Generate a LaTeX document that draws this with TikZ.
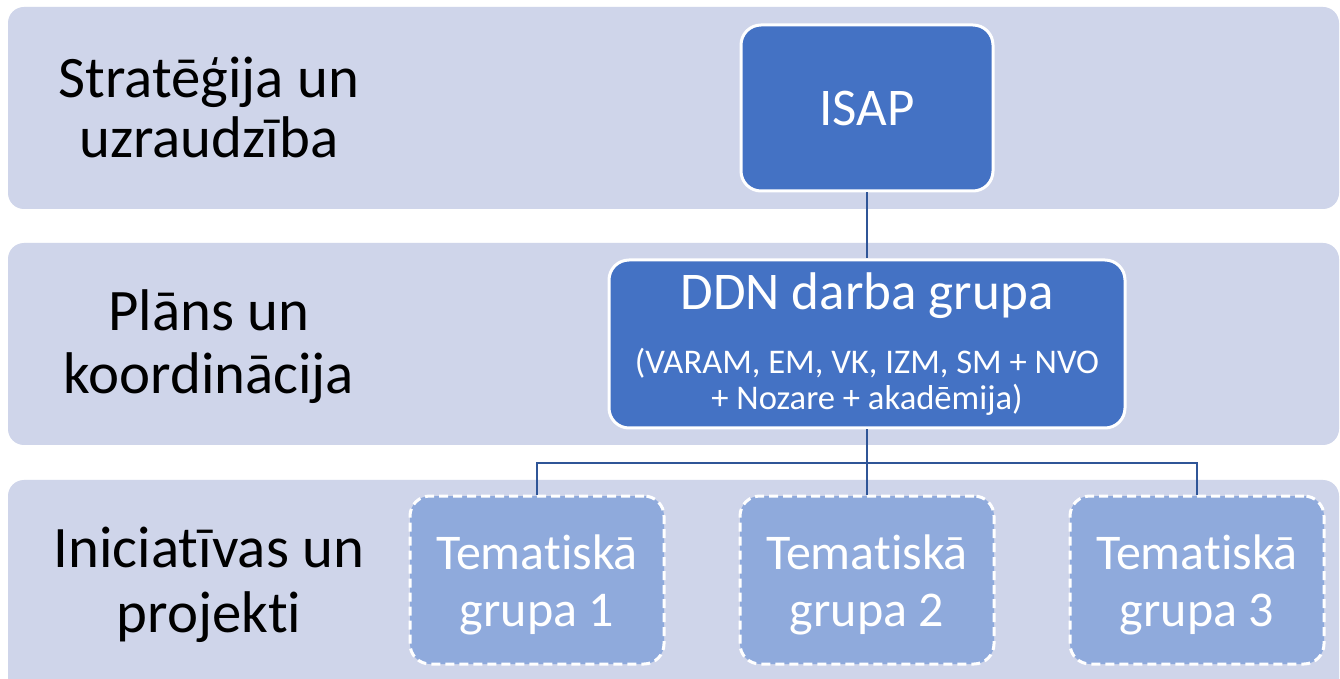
\documentclass[tikz,border=0pt]{standalone}
\usepackage{fontspec}
\setmainfont{Carlito}[Ligatures={NoCommon}]
\definecolor{bandfill}{HTML}{CFD5EA}
\definecolor{darkbox}{HTML}{4472C4}
\definecolor{lightbox}{HTML}{8FAADC}
\definecolor{linkcol}{HTML}{2F5597}

\begin{document}
\begin{tikzpicture}[x=0.5pt, y=-0.5pt,
  level distance=118pt, sibling distance=165pt,
  band/.style = {fill=bandfill, rounded corners=8pt},
  bandlabel/.style = {align=center, text=black,
    font=\fontsize{29.4pt}{#1}\selectfont},
  bandlabel/.default = 30pt,
  topbox/.style = {shape=rectangle, rounded corners=10pt,
    draw=white, line width=1.5pt, fill=darkbox, text=white,
    minimum width=126pt, minimum height=83pt, inner sep=0pt,
    align=center, font=\fontsize{26.5pt}{30pt}\selectfont},
  ddnbox/.style = {topbox, minimum width=258pt, minimum height=84pt,
    font=\fontsize{17.3pt}{18pt}\selectfont},
  temabox/.style = {topbox, fill=lightbox, dash pattern=on 4.5pt off 2.5pt,
    minimum width=127pt, minimum height=84pt,
    font=\fontsize{25pt}{28.5pt}\selectfont},
  edge from parent/.style = {draw=linkcol, line width=1pt},
  edge from parent path = {(\tikzparentnode.south) -- ++(0,34) -| (\tikzchildnode.north)}
  ]
  \clip (0,0) rectangle (1340,679);
  \fill[white] (0,0) rectangle (1340,679);
  % layer bands
  \path[band] (8,7) rectangle (1339,209);
  \path[band] (8,243) rectangle (1339,445);
  \path[band] (8,480) rectangle (1339,720);
  % layer labels
  \node[bandlabel] (strat) at (209,107) {Stratēģija un\\uzraudzība};
  \node[bandlabel=31.5pt] (plans) at (209,347) {Plāns un\\koordinācija};
  \node[bandlabel=32.5pt] (inic) at (209,585) {Iniciatīvas un\\projekti};
  % structure
  \node [topbox] (isap) at (867,108) {ISAP}
    child { node [ddnbox] (ddn) {{\fontsize{26.5pt}{30pt}\selectfont DDN darba grupa}\\[14pt]
        (VARAM, EM, VK, IZM, SM + NVO\\ + Nozare + akadēmija)}
      child { node [temabox] (tema1) {\rule{0pt}{22.5pt}Tematiskā\\grupa 1} }
      child { node [temabox] (tema2) {\rule{0pt}{22.5pt}Tematiskā\\grupa 2} }
      child { node [temabox] (tema3) {\rule{0pt}{22.5pt}Tematiskā\\grupa 3} }
      };
\end{tikzpicture}
\end{document}
